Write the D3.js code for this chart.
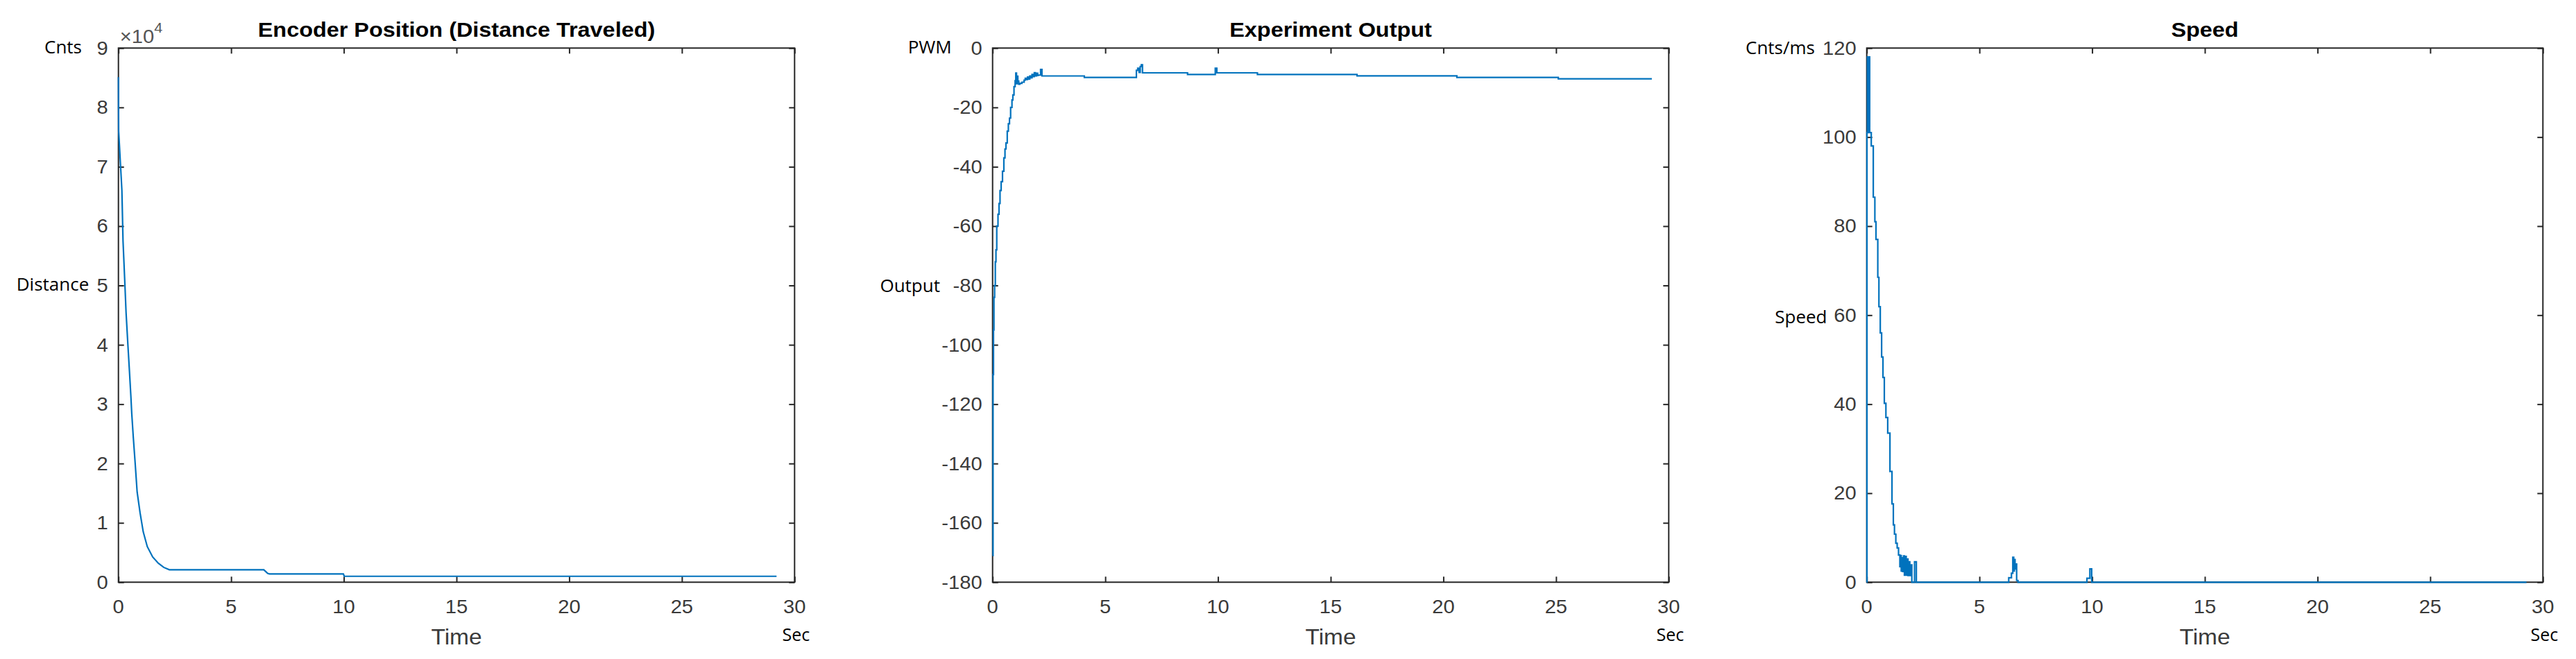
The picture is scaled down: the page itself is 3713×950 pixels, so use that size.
<!DOCTYPE html>
<html>
<head>
<meta charset="utf-8">
<script src="https://cdn.jsdelivr.net/npm/d3@7"></script>
<style>
  html, body { margin: 0; padding: 0; background: #fff; }
  svg { display: block; }
</style>
</head>
<body>
<svg id="chart" width="3713" height="950"></svg>
<script>
// ---------------- DATA ----------------
const timeTicks = [0, 5, 10, 15, 20, 25, 30];

// Panel 1: Encoder position (counts)
const encTicks = [0, 1, 2, 3, 4, 5, 6, 7, 8, 9]; // x 10^4
const encTime = [0, 0.005, 0.01, 0.154, 0.204, 0.286, 0.338, 0.42, 0.49, 0.55, 0.59, 0.66, 0.74, 0.83, 0.96, 1.1, 1.28, 1.52, 1.77, 2.01, 2.26, 6.45, 6.55, 6.62, 6.7, 9.98, 10.02, 29.2];
const encPos  = [85100, 80000, 76000, 66000, 57500, 50300, 45500, 40000, 35500, 31500, 28500, 24400, 20200, 15200, 11700, 8500, 6000, 4250, 3200, 2500, 2100, 2100, 1750, 1500, 1400, 1400, 1000, 1000];

// Panel 2: Experiment output (PWM)
const outTicks = [-180, -160, -140, -120, -100, -80, -60, -40, -20, 0];
const outTime = [0, 0.02, 0.04, 0.06, 0.09, 0.12, 0.15, 0.185, 0.24, 0.286, 0.33, 0.38, 0.44, 0.5, 0.55, 0.594, 0.65, 0.7, 0.75, 0.8, 0.86, 0.9, 0.95, 1.0, 1.03, 1.06, 1.09, 1.12, 1.16, 1.21, 1.3, 1.4, 1.45, 1.5, 1.55, 1.6, 1.65, 1.7, 1.75, 1.8, 1.85, 1.9, 1.95, 2.0, 2.03, 2.13, 2.19, 4.07, 6.38, 6.44, 6.5, 6.55, 6.6, 6.65, 8.65, 9.88, 9.95, 11.75, 16.17, 20.6, 25.1, 29.25];
const outPwm  = [-171, -110, -95, -84, -80, -72, -68, -60, -56, -52.4, -48, -45, -41.5, -37, -34, -32, -28, -25.5, -23.6, -20, -17.5, -15.8, -13, -11, -8.4, -12, -9.5, -11.1, -12.2, -11.9, -11.5, -10.8, -10.2, -10.6, -9.8, -10.4, -9.4, -10, -8.9, -9.6, -8.3, -9.4, -8.5, -9.2, -9.1, -7.2, -9.4, -9.9, -7.5, -6.8, -8.2, -6.2, -5.6, -8.35, -8.9, -6.8, -8.35, -8.9, -9.35, -9.9, -10.35, -10.35];

// Panel 3: Speed (counts/ms)
const spdTicks = [0, 20, 40, 60, 80, 100, 120];
const spdTime = [0, 0.01, 0.03, 0.05, 0.07, 0.09, 0.11, 0.13, 0.16, 0.2, 0.29, 0.36, 0.41, 0.49, 0.54, 0.6, 0.66, 0.72, 0.78, 0.85, 0.93, 1.03, 1.12, 1.18, 1.23, 1.29, 1.35, 1.41, 1.47, 1.5, 1.53, 1.56, 1.59, 1.63, 1.67, 1.71, 1.75, 1.79, 1.83, 1.87, 1.91, 1.95, 2.0, 2.12, 2.2, 6.3, 6.42, 6.48, 6.52, 6.55, 6.58, 6.6, 6.65, 6.71, 9.77, 9.9, 9.98, 29.27];
const spdVal  = [0, 101, 118, 101, 118, 102, 118, 101, 101, 98, 86.5, 81, 77, 68.5, 61.9, 56, 50.6, 46, 40.2, 37, 33.5, 24.9, 17.6, 12.9, 10.8, 8.75, 7.7, 6.1, 3.5, 6, 2.5, 5.5, 2.4, 5.9, 1.6, 5.8, 1.6, 5.2, 1.5, 4.6, 1.5, 3.9, 0, 4.6, 0, 1, 2, 5.6, 2.5, 5.1, 3, 4.1, 0.4, 0, 0.9, 3, 0, 0];

const titles = ["Encoder Position (Distance Traveled)", "Experiment Output", "Speed"];
const topLabels = ["Cnts", "PWM", "Cnts/ms"];
const midLabels = ["Distance", "Output", "Speed"];

// ---------------- LAYOUT ----------------
const svg = d3.select("#chart");
const plotW = 974.6, plotTop = 69.3, plotBottom = 839.3;
const lefts = [170.7, 1430.7, 2690.7];
const axisColor = "#262626", tickTextColor = "#3a3a3a", lineColor = "#0072BD";
const SX = 1.08;

function txt(g, x, y, s, o) {
  return g.append("text")
    .attr("transform", `translate(${x},${y}) scale(${o.sx || SX},1)`)
    .attr("text-anchor", o.anchor || "middle")
    .attr("font-family", o.family || "'Liberation Sans', Arial, sans-serif")
    .attr("font-size", o.size || 27)
    .attr("font-weight", o.weight || "normal")
    .attr("fill", o.fill || tickTextColor)
    .text(s);
}

const panels = [
  { time: encTime, vals: encPos, ticks: encTicks, domain: [0, 90000], tickVal: d => d * 10000, curve: d3.curveLinear,
    topLab: { dx: -52.7, y: 77 }, midLab: { dx: -42.4, y: 419 } },
  { time: outTime, vals: outPwm, ticks: outTicks, domain: [-180, 0], tickVal: d => d, curve: d3.curveStepAfter,
    topLab: { dx: -59, y: 77 }, midLab: { dx: -75.7, y: 421 } },
  { time: spdTime, vals: spdVal, ticks: spdTicks, domain: [0, 120], tickVal: d => d, curve: d3.curveStepAfter,
    topLab: { dx: -74.7, y: 78 }, midLab: { dx: -57.2, y: 466 } }
];

panels.forEach((p, i) => {
  const L = lefts[i], R = L + plotW;
  const x = d3.scaleLinear().domain([0, 30]).range([L, R]);
  const y = d3.scaleLinear().domain(p.domain).range([plotBottom, plotTop]);
  const g = svg.append("g");

  // box
  g.append("rect").attr("x", L).attr("y", plotTop).attr("width", plotW).attr("height", plotBottom - plotTop)
    .attr("fill", "none").attr("stroke", axisColor).attr("stroke-width", 2);

  // axes via d3 (ticks inward)
  const tl = 8;
  const yv = p.ticks.map(p.tickVal);
  const xb = g.append("g").attr("transform", `translate(0,${plotBottom})`)
    .call(d3.axisBottom(x).tickValues(timeTicks).tickSize(-tl).tickFormat(""));
  const xt = g.append("g").attr("transform", `translate(0,${plotTop})`)
    .call(d3.axisTop(x).tickValues(timeTicks).tickSize(-tl).tickFormat(""));
  const yl = g.append("g").attr("transform", `translate(${L},0)`)
    .call(d3.axisLeft(y).tickValues(yv).tickSize(-tl).tickFormat(""));
  const yr = g.append("g").attr("transform", `translate(${R},0)`)
    .call(d3.axisRight(y).tickValues(yv).tickSize(-tl).tickFormat(""));
  [xb, xt, yl, yr].forEach(a => {
    a.select(".domain").remove();
    a.selectAll("line").attr("stroke", axisColor).attr("stroke-width", 2);
  });

  // tick labels
  timeTicks.forEach(t => txt(g, x(t), 884, String(t), {}));
  p.ticks.forEach(t => txt(g, L - 15, y(p.tickVal(t)) + 9.5, String(t), { anchor: "end" }));

  // title
  txt(g, L + plotW / 2, 53, titles[i], { size: 30, weight: "bold", fill: "#000" });

  // x label
  txt(g, L + plotW / 2, 929, "Time", { size: 31 });
  txt(g, R + 2, 924, "Sec", { size: 25, family: "'Open Sans', 'Noto Sans', sans-serif", fill: "#000", sx: 1 });

  // y labels
  txt(g, L + p.topLab.dx, p.topLab.y, topLabels[i], { anchor: "end", size: 26, family: "'Open Sans', 'Noto Sans', sans-serif", fill: "#000", sx: 1 });
  txt(g, L + p.midLab.dx, p.midLab.y, midLabels[i], { anchor: "end", size: 26, family: "'Open Sans', 'Noto Sans', sans-serif", fill: "#000", sx: 1 });

  // exponent for panel 1
  if (i === 0) {
    const e = g.append("text")
      .attr("transform", `translate(${L + 2},62) scale(${SX},1)`)
      .attr("font-family", "'Liberation Sans', Arial, sans-serif")
      .attr("font-size", 27).attr("fill", "#555");
    e.append("tspan").text("\u00d710");
    e.append("tspan").attr("dy", -15).attr("font-size", 20).text("4");
  }

  // data line
  const pts = p.time.map((t, k) => [t, p.vals[k]]);
  const line = d3.line().x(d => x(d[0])).y(d => y(d[1])).curve(p.curve);
  g.append("path").datum(pts).attr("d", line)
    .attr("fill", "none").attr("stroke", lineColor).attr("stroke-width", 2.2)
    .attr("stroke-linejoin", "miter");
});
</script>
</body>
</html>
